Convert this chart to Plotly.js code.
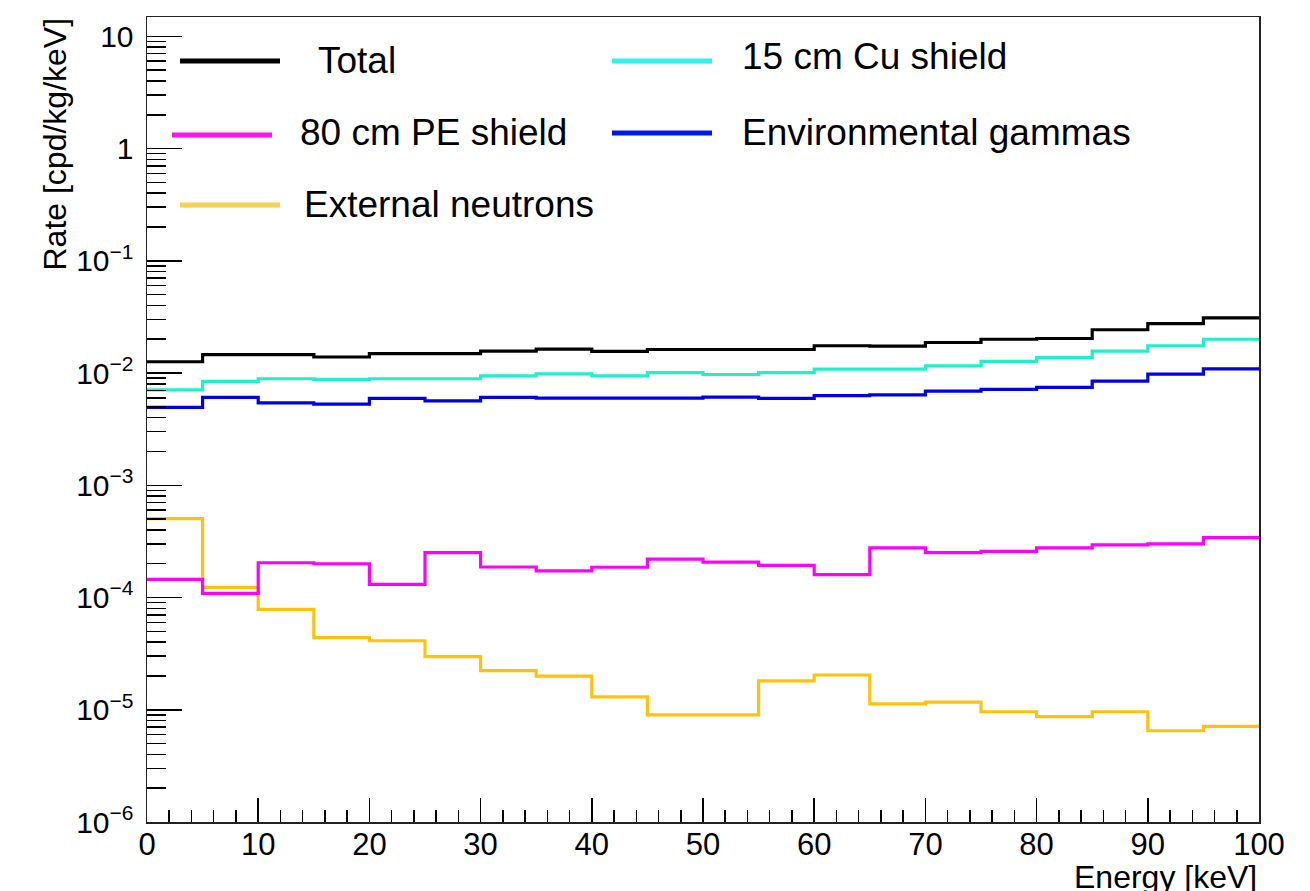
<!DOCTYPE html>
<html>
<head>
<meta charset="utf-8">
<script src="https://cdn.plot.ly/plotly-3.0.1.min.js"></script>
<style>
  html, body { margin: 0; padding: 0; background: #fff; }
  #chart { width: 1310px; height: 891px; }
</style>
</head>
<body>
<div id="chart"></div>
<script>
// Bin lower edges in keV (5 keV bins from 0 to 100)
const binEdges = [0, 5, 10, 15, 20, 25, 30, 35, 40, 45, 50, 55, 60, 65, 70, 75, 80, 85, 90, 95];
const binUpper = 100;

// Background rates per bin [cpd/kg/keV]
const total = [0.0126, 0.0146, 0.0146, 0.0139, 0.0149, 0.0149, 0.0157, 0.0163, 0.0156, 0.0162,
               0.0162, 0.0162, 0.0175, 0.0174, 0.0187, 0.0200, 0.0203, 0.0243, 0.0276, 0.0310];
const cuShield = [0.00708, 0.00841, 0.00889, 0.00877, 0.00889, 0.00889, 0.00944, 0.00984, 0.00944, 0.0101,
                  0.0097, 0.0101, 0.01084, 0.01084, 0.0116, 0.0127, 0.0137, 0.0157, 0.0175, 0.0200];
const envGammas = [0.00494, 0.00607, 0.00543, 0.00528, 0.00594, 0.00566, 0.00607, 0.00597, 0.00597, 0.00597,
                   0.0061, 0.00594, 0.0063, 0.0064, 0.0069, 0.00714, 0.00745, 0.00848, 0.00977, 0.0109];
const peShield = [1.45e-4, 1.09e-4, 2.04e-4, 2.0e-4, 1.31e-4, 2.51e-4, 1.87e-4, 1.73e-4, 1.86e-4, 2.20e-4,
                  2.07e-4, 1.93e-4, 1.60e-4, 2.77e-4, 2.51e-4, 2.58e-4, 2.77e-4, 2.95e-4, 3.0e-4, 3.41e-4];
const extNeutrons = [5.04e-4, 1.23e-4, 7.85e-5, 4.39e-5, 4.12e-5, 2.97e-5, 2.23e-5, 1.99e-5, 1.30e-5, 9.0e-6,
                     9.0e-6, 1.81e-5, 2.04e-5, 1.13e-5, 1.17e-5, 9.6e-6, 8.7e-6, 9.6e-6, 6.5e-6, 7.1e-6];

// Legend labels
const legendLabels = ['Total', '15 cm Cu shield', '80 cm PE shield', 'Environmental gammas', 'External neutrons'];

// Y axis tick values and labels
const yTickVals = [1e-6, 1e-5, 1e-4, 1e-3, 1e-2, 1e-1, 1, 10];
const yTickText = ['10<sup>\u22126</sup>', '10<sup>\u22125</sup>', '10<sup>\u22124</sup>', '10<sup>\u22123</sup>',
                   '10<sup>\u22122</sup>', '10<sup>\u22121</sup>', '1', '10'];

const FONT = '"Liberation Sans", Arial, Helvetica, sans-serif';

// Plot frame in page pixels
const W = 1310, H = 891;
const L = 147, R = 1259, T = 17, B = 822;
const px = x => (x - L) / (R - L);
const py = y => (B - y) / (B - T);

// Histogram as a step line: repeat the last bin content at the upper edge
function histTrace(values, color, name) {
  return {
    x: binEdges.concat([binUpper]),
    y: values.concat([values[values.length - 1]]),
    type: 'scatter',
    mode: 'lines',
    line: { shape: 'hv', color: color, width: 3.2 },
    name: name,
    showlegend: false,
    hoverinfo: 'skip'
  };
}

const colors = {
  total: '#000000',
  cu: '#1ff0c8',
  env: '#0000e8',
  pe: '#ff00ff',
  neu: '#ffc20a'
};

const data = [
  histTrace(extNeutrons, colors.neu, legendLabels[4]),
  histTrace(peShield, colors.pe, legendLabels[2]),
  histTrace(envGammas, colors.env, legendLabels[3]),
  histTrace(cuShield, colors.cu, legendLabels[1]),
  histTrace(total, colors.total, legendLabels[0])
];

// Hand-placed key: [label, key colour, line x0, line x1, line y, text x, text y]
const keyItems = [
  [legendLabels[0], '#000000', 180, 280, 61, 316, 61],
  [legendLabels[1], '#30f2ee', 612, 712, 61, 740, 57],
  [legendLabels[2], '#ff10f0', 172, 272, 135, 298, 133],
  [legendLabels[3], '#0018f0', 612, 712, 133, 740, 133],
  [legendLabels[4], '#f9d050', 180, 280, 205, 302, 205]
];

const shapes = keyItems.map(k => ({
  type: 'line', xref: 'paper', yref: 'paper',
  x0: px(k[2]), x1: px(k[3]), y0: py(k[4]), y1: py(k[4]),
  line: { color: k[1], width: 5 }
}));

const annotations = keyItems.map(k => ({
  text: k[0], xref: 'paper', yref: 'paper',
  x: px(k[5]), y: py(k[6]), xanchor: 'left', yanchor: 'middle',
  showarrow: false, font: { family: FONT, size: 37, color: '#000' }
}));

// Axis titles placed at the top / right ends of the axes
annotations.push({
  text: 'Rate [cpd/kg/keV]', xref: 'paper', yref: 'paper',
  x: px(55), y: py(16), xanchor: 'center', yanchor: 'top', textangle: -90,
  showarrow: false, font: { family: FONT, size: 32, color: '#000' }
});
annotations.push({
  text: 'Energy [keV]', xref: 'paper', yref: 'paper',
  x: px(1259), y: py(857), xanchor: 'right', yanchor: 'top',
  showarrow: false, font: { family: FONT, size: 32, color: '#000' }
});

const layout = {
  width: W, height: H,
  margin: { l: L, r: W - R, t: T, b: H - B, pad: 0 },
  paper_bgcolor: '#ffffff',
  plot_bgcolor: '#ffffff',
  showlegend: false,
  font: { family: FONT, color: '#000' },
  xaxis: {
    range: [0, 100],
    tickvals: [0, 10, 20, 30, 40, 50, 60, 70, 80, 90, 100],
    ticks: 'inside', ticklen: 24, tickwidth: 1.5, tickcolor: '#000',
    minor: { dtick: 2, ticks: 'inside', ticklen: 12, tickwidth: 1.5, tickcolor: '#000', showgrid: false },
    showgrid: false, zeroline: false,
    showline: true, linecolor: '#222', linewidth: 1.5, mirror: true,
    tickfont: { family: FONT, size: 31, color: '#000' },
    ticklabelstandoff: -6
  },
  yaxis: {
    type: 'log',
    range: [-6, 1.172],
    tickvals: yTickVals, ticktext: yTickText,
    ticks: 'inside', ticklen: 35, tickwidth: 1.5, tickcolor: '#000',
    minor: { dtick: 'D1', ticks: 'inside', ticklen: 19, tickwidth: 1.5, tickcolor: '#000', showgrid: false },
    showgrid: false, zeroline: false,
    showline: true, linecolor: '#222', linewidth: 1.5, mirror: true,
    tickfont: { family: FONT, size: 30, color: '#000' },
    ticklabelstandoff: 6
  },
  shapes: shapes,
  annotations: annotations
};

Plotly.newPlot('chart', data, layout, { staticPlot: true, displayModeBar: false });
</script>
</body>
</html>
